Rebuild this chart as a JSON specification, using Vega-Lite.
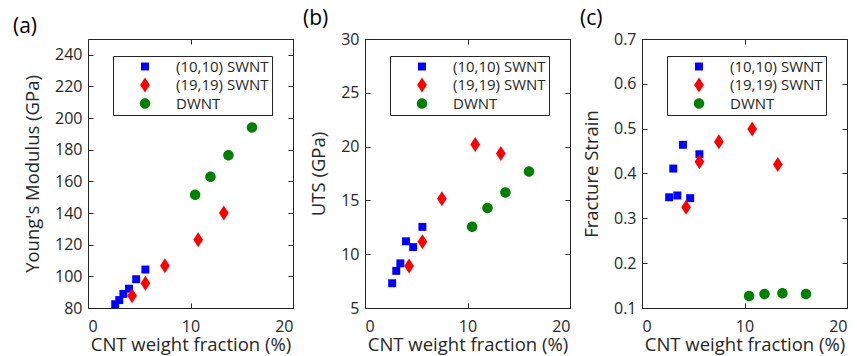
{
  "$schema": "https://vega.github.io/schema/vega-lite/v6.json",
  "padding": {"left": 12, "top": 7, "right": 5, "bottom": 1},
  "datasets": {
    "cnt": [
      {"type": "(10,10) SWNT", "frac": 2.65, "E": 82.4, "UTS": 7.3, "FS": 0.347},
      {"type": "(10,10) SWNT", "frac": 3.05, "E": 85.0, "UTS": 8.45, "FS": 0.411},
      {"type": "(10,10) SWNT", "frac": 3.45, "E": 88.9, "UTS": 9.15, "FS": 0.351},
      {"type": "(10,10) SWNT", "frac": 4.0, "E": 92.2, "UTS": 11.2, "FS": 0.464},
      {"type": "(10,10) SWNT", "frac": 4.7, "E": 98.2, "UTS": 10.66, "FS": 0.345},
      {"type": "(10,10) SWNT", "frac": 5.6, "E": 104.3, "UTS": 12.54, "FS": 0.443},
      {"type": "(19,19) SWNT", "frac": 4.3, "E": 87.8, "UTS": 8.9, "FS": 0.325},
      {"type": "(19,19) SWNT", "frac": 5.6, "E": 95.6, "UTS": 11.15, "FS": 0.426},
      {"type": "(19,19) SWNT", "frac": 7.5, "E": 106.7, "UTS": 15.15, "FS": 0.471},
      {"type": "(19,19) SWNT", "frac": 10.75, "E": 123.2, "UTS": 20.2, "FS": 0.499},
      {"type": "(19,19) SWNT", "frac": 13.25, "E": 140.0, "UTS": 19.37, "FS": 0.42},
      {"type": "DWNT", "frac": 10.45, "E": 151.6, "UTS": 12.54, "FS": 0.127},
      {"type": "DWNT", "frac": 11.95, "E": 163.0, "UTS": 14.3, "FS": 0.131},
      {"type": "DWNT", "frac": 13.7, "E": 176.6, "UTS": 15.74, "FS": 0.133},
      {"type": "DWNT", "frac": 16.0, "E": 194.1, "UTS": 17.68, "FS": 0.131}
    ]
  },
  "data": {"name": "cnt"},
  "hconcat": [
    {
      "title": {"text": "(a)", "dx": -75},
      "width": 205, "height": 269,
      "layer": [
        {
          "mark": {"type": "point", "filled": true, "size": 225, "opacity": 1, "strokeWidth": 0},
          "encoding": {
            "x": {"field": "frac", "type": "quantitative", "scale": {"domain": [0, 20], "nice": false}, "axis": {"values": [0, 10, 20], "title": "CNT weight fraction (%)"}},
            "y": {"field": "E", "type": "quantitative", "scale": {"domain": [80, 250], "nice": false, "zero": false}, "axis": {"values": [80, 100, 120, 140, 160, 180, 200, 220, 240], "title": "Young's Modulus (GPa)"}},
            "color": {"field": "type", "type": "nominal", "scale": {"domain": ["(10,10) SWNT", "(19,19) SWNT", "DWNT"], "range": ["#0000ff", "#ff0000", "#008000"]}, "legend": {"orient": "none", "legendX": 25, "legendY": 17, "title": null}},
            "shape": {"field": "type", "type": "nominal", "scale": {"domain": ["(10,10) SWNT", "(19,19) SWNT", "DWNT"], "range": ["M-0.53,-0.53H0.53V0.53H-0.53Z", "M0,-1L0.65,0L0,1L-0.65,0Z", "M-0.7,0A0.7,0.7 0 1,0 0.7,0A0.7,0.7 0 1,0 -0.7,0Z"]}, "legend": {"orient": "none", "legendX": 25, "legendY": 17, "title": null}}
          }
        },
        {
          "mark": {"type": "point", "opacity": 0},
          "encoding": {
            "x": {"field": "frac", "type": "quantitative", "axis": {"orient": "top", "values": [0, 10, 20], "labels": false, "title": null}},
            "y": {"field": "E", "type": "quantitative", "axis": {"orient": "right", "values": [80, 100, 120, 140, 160, 180, 200, 220, 240], "labels": false, "title": null}}
          }
        }
      ],
      "resolve": {"axis": {"x": "independent", "y": "independent"}}
    },
    {
      "title": {"text": "(b)", "dx": -62},
      "width": 205, "height": 269,
      "layer": [
        {
          "mark": {"type": "point", "filled": true, "size": 225, "opacity": 1, "strokeWidth": 0},
          "encoding": {
            "x": {"field": "frac", "type": "quantitative", "scale": {"domain": [0, 20], "nice": false}, "axis": {"values": [0, 10, 20], "title": "CNT weight fraction (%)"}},
            "y": {"field": "UTS", "type": "quantitative", "scale": {"domain": [5, 30], "nice": false, "zero": false}, "axis": {"values": [5, 10, 15, 20, 25, 30], "title": "UTS (GPa)"}},
            "color": {"field": "type", "type": "nominal", "scale": {"domain": ["(10,10) SWNT", "(19,19) SWNT", "DWNT"], "range": ["#0000ff", "#ff0000", "#008000"]}, "legend": {"orient": "none", "legendX": 25, "legendY": 17, "title": null}},
            "shape": {"field": "type", "type": "nominal", "scale": {"domain": ["(10,10) SWNT", "(19,19) SWNT", "DWNT"], "range": ["M-0.53,-0.53H0.53V0.53H-0.53Z", "M0,-1L0.65,0L0,1L-0.65,0Z", "M-0.7,0A0.7,0.7 0 1,0 0.7,0A0.7,0.7 0 1,0 -0.7,0Z"]}, "legend": {"orient": "none", "legendX": 25, "legendY": 17, "title": null}}
          }
        },
        {
          "mark": {"type": "point", "opacity": 0},
          "encoding": {
            "x": {"field": "frac", "type": "quantitative", "axis": {"orient": "top", "values": [0, 10, 20], "labels": false, "title": null}},
            "y": {"field": "UTS", "type": "quantitative", "axis": {"orient": "right", "values": [5, 10, 15, 20, 25, 30], "labels": false, "title": null}}
          }
        }
      ],
      "resolve": {"axis": {"x": "independent", "y": "independent"}}
    },
    {
      "title": {"text": "(c)", "dx": -62},
      "width": 205, "height": 269,
      "layer": [
        {
          "mark": {"type": "point", "filled": true, "size": 225, "opacity": 1, "strokeWidth": 0},
          "encoding": {
            "x": {"field": "frac", "type": "quantitative", "scale": {"domain": [0, 20], "nice": false}, "axis": {"values": [0, 10, 20], "title": "CNT weight fraction (%)"}},
            "y": {"field": "FS", "type": "quantitative", "scale": {"domain": [0.1, 0.7], "nice": false, "zero": false}, "axis": {"values": [0.1, 0.2, 0.3, 0.4, 0.5, 0.6, 0.7], "format": ".1f", "title": "Fracture Strain"}},
            "color": {"field": "type", "type": "nominal", "scale": {"domain": ["(10,10) SWNT", "(19,19) SWNT", "DWNT"], "range": ["#0000ff", "#ff0000", "#008000"]}, "legend": {"orient": "none", "legendX": 25, "legendY": 17, "title": null}},
            "shape": {"field": "type", "type": "nominal", "scale": {"domain": ["(10,10) SWNT", "(19,19) SWNT", "DWNT"], "range": ["M-0.53,-0.53H0.53V0.53H-0.53Z", "M0,-1L0.65,0L0,1L-0.65,0Z", "M-0.7,0A0.7,0.7 0 1,0 0.7,0A0.7,0.7 0 1,0 -0.7,0Z"]}, "legend": {"orient": "none", "legendX": 25, "legendY": 17, "title": null}}
          }
        },
        {
          "mark": {"type": "point", "opacity": 0},
          "encoding": {
            "x": {"field": "frac", "type": "quantitative", "axis": {"orient": "top", "values": [0, 10, 20], "labels": false, "title": null}},
            "y": {"field": "FS", "type": "quantitative", "axis": {"orient": "right", "values": [0.1, 0.2, 0.3, 0.4, 0.5, 0.6, 0.7], "labels": false, "title": null}}
          }
        }
      ],
      "resolve": {"axis": {"x": "independent", "y": "independent"}}
    }
  ],
  "spacing": 72,
  "bounds": "flush",
  "resolve": {"scale": {"color": "independent", "shape": "independent"}, "legend": {"color": "independent", "shape": "independent"}},
  "config": {
    "font": "Open Sans",
    "background": "white",
    "view": {"stroke": "#262626", "strokeWidth": 1},
    "title": {"anchor": "start", "frame": "group", "fontSize": 21, "fontWeight": "normal", "color": "#000000", "offset": 2},
    "axis": {"grid": false, "domain": false, "tickSize": -5, "tickColor": "#262626", "tickWidth": 1, "labelFontSize": 16, "labelColor": "#262626", "titleFontSize": 18.5, "titleFontWeight": "normal", "titleColor": "#262626"},
    "axisX": {"labelPadding": 15, "titlePadding": 1},
    "axisY": {"labelPadding": 11, "titlePadding": 12},
    "legend": {"padding": 3, "strokeColor": "#262626", "fillColor": "white", "labelFontSize": 15, "labelColor": "#262626", "symbolSize": 225, "symbolOffset": 21.5, "labelOffset": 23.5, "rowPadding": 2.5, "symbolStrokeWidth": 0}
  }
}
